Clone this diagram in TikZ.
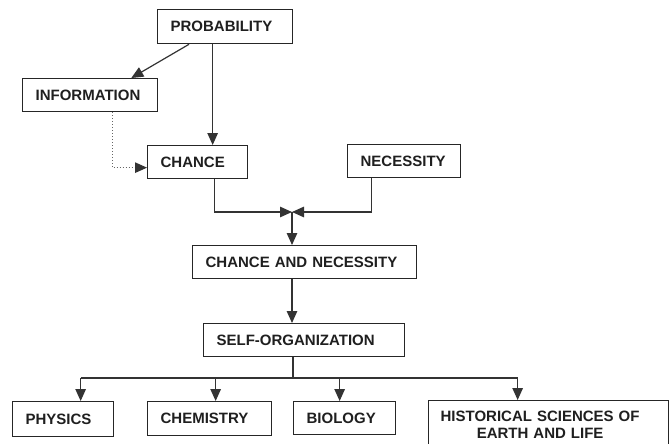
\documentclass[tikz,border=0pt]{standalone}
\usepackage{fontspec}
\setmainfont{Liberation Sans}
\usetikzlibrary{arrows.meta,calc}
\definecolor{boxc}{gray}{0.15}
\definecolor{linec}{gray}{0.2}
\definecolor{txtc}{gray}{0.12}
\definecolor{dotc}{gray}{0.4}
\begin{document}
\begin{tikzpicture}[x=1pt,y=-1pt,
  box/.style={draw=boxc,line width=1.3pt,fill=white,font=\fontsize{15}{18}\selectfont\bfseries,
    text=txtc,inner sep=0pt,anchor=north west,align=left},
  conn/.style={draw=linec,line width=1.2pt,-{Triangle[length=12pt,width=10.5pt]}},
  plain/.style={draw=linec,line width=1.2pt},
  dotconn/.style={draw=dotc,line width=1pt,dotted,-{Triangle[length=12pt,width=10.5pt,color=linec]}}]
\fill[white] (0,0) rectangle (669,444);
\useasboundingbox (0,0) rectangle (669,444);

\node[box,minimum width=135pt,minimum height=34pt,text width=109pt] (prob) at (157,9) {PROBABILITY};
\node[box,minimum width=135pt,minimum height=33pt,text width=109pt] (info) at (22,78) {INFORMATION};
\node[box,minimum width=100pt,minimum height=33pt,text width=74pt] (chance) at (147,145) {CHANCE};
\node[box,minimum width=113pt,minimum height=33pt,text width=87pt] (nec) at (347,144) {NECESSITY};
\node[box,minimum width=224pt,minimum height=33pt,text width=198pt] (cn) at (192,245) {CHANCE AND NECESSITY};
\node[box,minimum width=201pt,minimum height=33pt,text width=175pt] (so) at (203,323) {SELF-ORGANIZATION};
\node[box,minimum width=101pt,minimum height=35pt,text width=75pt] (phys) at (12,401) {PHYSICS};
\node[box,minimum width=124pt,minimum height=34pt,text width=98pt] (chem) at (147,401) {CHEMISTRY};
\node[box,minimum width=102pt,minimum height=33pt,text width=76pt] (bio) at (293,401) {BIOLOGY};
\node[box,minimum width=240pt,minimum height=52pt,text width=216pt] (hist) at (428,400)
  {\begin{tabular}{@{}c@{}}HISTORICAL SCIENCES OF\\[-1pt]EARTH AND LIFE\end{tabular}};

% probability -> information
\draw[conn] ($(prob.south west)+(32,0)$) -- ($(info.north east)+(-27,0)$);
% probability -> chance
\coordinate (pc) at ($(chance.north)+(15,0)$);
\draw[conn] (pc |- prob.south) -- (pc);
% information -> chance (dotted)
\coordinate (id) at ($(info.south west)+(90,0)$);
\coordinate (cw) at ($(chance.west)+(0,5.5)$);
\draw[dotconn] (id) |- (cw);
% chance, necessity -> merge
\coordinate (m) at (292,212);
\coordinate (cs) at ($(chance.south)+(17,0)$);
\coordinate (ns) at ($(nec.south)+(-32.5,0)$);
\draw[conn] (cs) |- (m);
\draw[conn] (ns) |- (m);
\draw[conn] (m) -- (m |- cn.north);
\draw[conn] (m |- cn.south) -- (m |- so.north);
% self-organization -> sciences
\coordinate (j) at (293,378);
\draw[plain] (so.south -| j) -- (j);
\coordinate (pa) at ($(phys.north)+(17.5,0)$);
\coordinate (ca) at ($(chem.north)+(6,0)$);
\coordinate (ba) at ($(bio.north)+(-5,0)$);
\coordinate (ha) at ($(hist.north)+(-31,0)$);
\draw[plain] (pa |- j) -- (ha |- j);
\draw[conn] (pa |- j) -- (pa);
\draw[conn] (ca |- j) -- (ca);
\draw[conn] (ba |- j) -- (ba);
\draw[conn] (ha |- j) -- (ha);
\end{tikzpicture}
\end{document}
